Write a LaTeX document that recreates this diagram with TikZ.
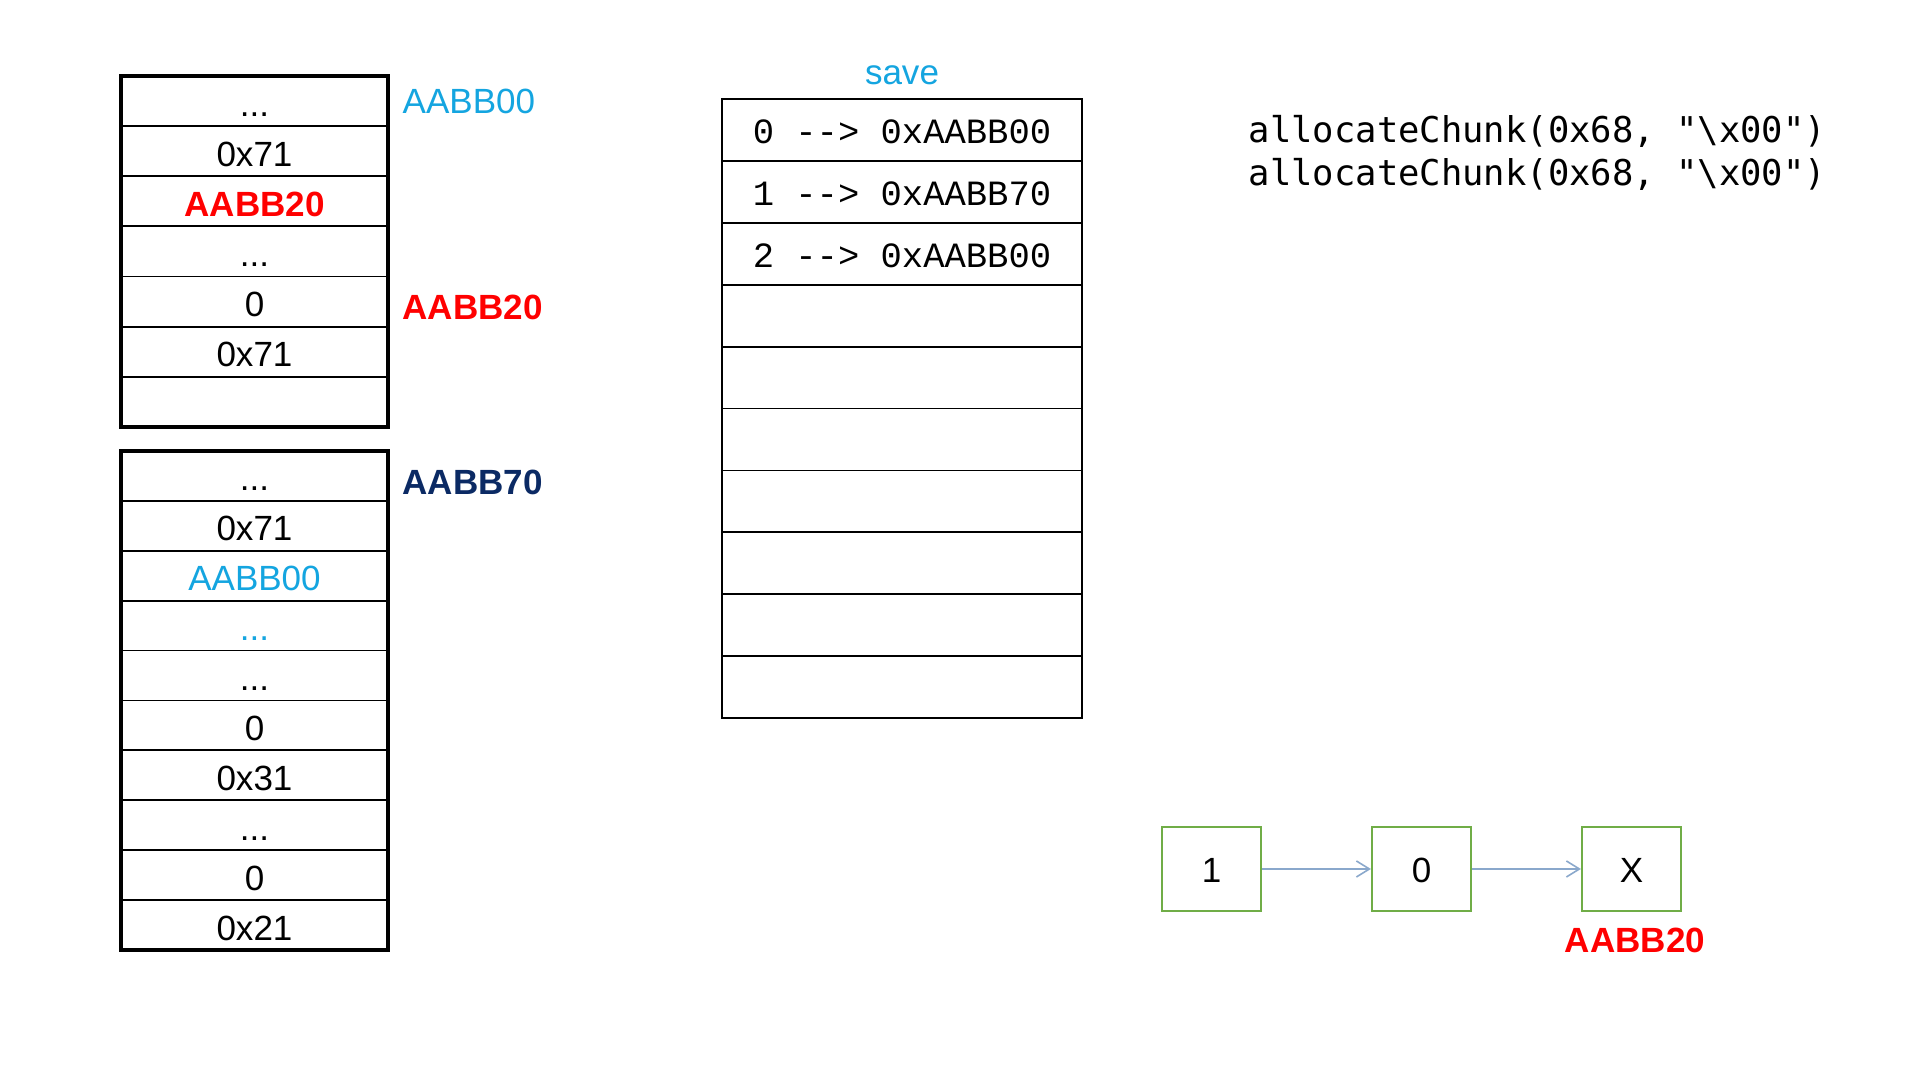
\documentclass[tikz,border=0pt]{standalone}
\usepackage{fontspec}
\setmainfont{Liberation Sans}
\newfontfamily\tabmono{Liberation Mono}
\newfontfamily\codemono{DejaVu Sans Mono}
\usetikzlibrary{arrows.meta}
\definecolor{cyanT}{HTML}{14A5E0}
\definecolor{redT}{HTML}{FF0000}
\definecolor{navyT}{HTML}{0B2A64}
\definecolor{greenB}{HTML}{70AD47}
\definecolor{arrowC}{HTML}{8AA8CC}
\newcommand\mysz{\fontsize{9.96pt}{12pt}\selectfont}
\newcommand\mymono{\fontsize{10.1pt}{12pt}\selectfont}
\tikzset{
  cellA/.style={draw=black, line width=0.5pt, minimum width=2.67cm, minimum height=0.5014cm,
    inner sep=0pt, outer sep=0pt, text height=0.30cm, text depth=0pt, font=\mysz},
  cellB/.style={cellA, minimum height=0.499cm},
  frame/.style={draw=black, line width=1pt},
  tcell/.style={draw=black, line width=0.5pt, minimum width=3.6cm, minimum height=0.619cm,
    inner sep=0pt, outer sep=0pt, text height=0.28cm, text depth=0pt, font=\tabmono\mymono},
  lnode/.style={draw=greenB, line width=0.6pt, minimum width=0.99cm, minimum height=0.84cm,
    inner sep=0pt, text height=0.27cm, text depth=0pt, font=\mysz},
  link/.style={draw=arrowC, line width=0.45pt, -{Straight Barb[length=0.13cm, width=0.16cm]}},
  lbl/.style={inner sep=0pt, anchor=base west, font=\mysz},
  codeline/.style={inner sep=0pt, anchor=base west, font=\codemono\mymono},
}
\begin{document}
\begin{tikzpicture}[x=0.01cm, y=-0.01cm]
\fill[white] (0,0) rectangle (1920,1080);
\useasboundingbox (0,0) rectangle (1920,1080);

% ---- memory block 1
\node[cellA] (a1) at (254.5,101.1) {...};
\node[cellA] (a2) at (254.5,151.2) {0x71};
\node[cellA, text=redT, font=\mysz\bfseries] (a3) at (254.5,201.3) {AABB20};
\node[cellA] (a4) at (254.5,251.5) {...};
\node[cellA] (a5) at (254.5,301.6) {0};
\node[cellA] (a6) at (254.5,351.8) {0x71};
\node[cellA] (a7) at (254.5,401.9) {};
\draw[frame] (a1.north west) rectangle (a7.south east);

% ---- memory block 2
\node[cellB] (b1) at (254.5,475.95) {...};
\node[cellB] (b2) at (254.5,525.85) {0x71};
\node[cellB, text=cyanT] (b3) at (254.5,575.75) {AABB00};
\node[cellB, text=cyanT] (b4) at (254.5,625.65) {...};
\node[cellB] (b5) at (254.5,675.55) {...};
\node[cellB] (b6) at (254.5,725.45) {0};
\node[cellB] (b7) at (254.5,775.35) {0x31};
\node[cellB] (b8) at (254.5,825.25) {...};
\node[cellB] (b9) at (254.5,875.15) {0};
\node[cellB] (b10) at (254.5,925.05) {0x21};
\draw[frame] (b1.north west) rectangle (b10.south east);

% ---- address labels
\node[lbl, text=cyanT] (l1) at (402,114) {AABB00};
\node[lbl, text=redT, font=\mysz\bfseries] (l2) at (402,319.5) {AABB20};
\node[lbl, text=navyT, font=\mysz\bfseries] (l3) at (402,494.5) {AABB70};

% ---- save table
\node[font=\mysz, text=cyanT, inner sep=0pt, anchor=base] (savelbl) at (902,84.5) {save};
\node[tcell] (t1) at (902,130) {0 -\kern0pt-\kern0pt> 0xAABB00};
\node[tcell] (t2) at (902,191.9) {1 -\kern0pt-\kern0pt> 0xAABB70};
\node[tcell] (t3) at (902,253.8) {2 -\kern0pt-\kern0pt> 0xAABB00};
\node[tcell] (t4) at (902,315.7) {};
\node[tcell] (t5) at (902,377.6) {};
\node[tcell] (t6) at (902,439.5) {};
\node[tcell] (t7) at (902,501.4) {};
\node[tcell] (t8) at (902,563.3) {};
\node[tcell] (t9) at (902,625.2) {};
\node[tcell] (t10) at (902,687.1) {};
\draw[black, line width=0.6pt] (t1.north west) rectangle (t10.south east);

% ---- code
\node[codeline] (c1) at (1248,143) {allocateChunk(0x68, "\textbackslash x00")};
\node[codeline] (c2) at (1248,186) {allocateChunk(0x68, "\textbackslash x00")};

% ---- linked list
\node[lnode] (n1) at (1211.5,869) {1};
\node[lnode] (n2) at (1421.5,869) {0};
\node[lnode] (n3) at (1631.5,869) {X};
\draw[link] (n1.east) -- (n2.west);
\draw[link] (n2.east) -- (n3.west);
\node[inner sep=0pt, anchor=base, text=redT, font=\mysz\bfseries] (l4) at (1635,953) {AABB20};
\end{tikzpicture}
\end{document}
